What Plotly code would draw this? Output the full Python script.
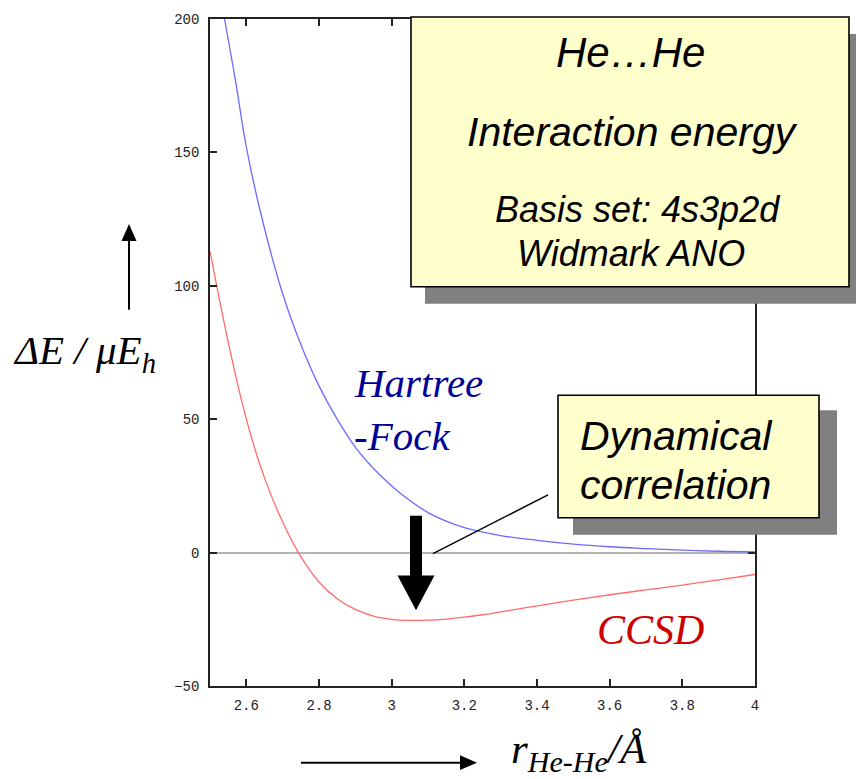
import plotly.graph_objects as go

# ---------------- data ----------------
hf_r = [2.54, 2.57, 2.60, 2.64, 2.70, 2.75, 2.80, 2.85, 2.90, 2.95, 3.00,
        3.05, 3.10, 3.15, 3.20, 3.30, 3.40, 3.50, 3.60, 3.70, 3.80, 3.90, 4.00]
hf_e = [200, 177, 152, 127, 97, 78, 62.5, 50, 39.5, 31.5, 25,
        19.5, 15, 11.8, 9.4, 6.4, 4.6, 3.2, 2.2, 1.5, 0.9, 0.5, 0.3]

cc_r = [2.50, 2.55, 2.60, 2.65, 2.70, 2.75, 2.80, 2.85, 2.90, 2.95, 3.00,
        3.05, 3.10, 3.15, 3.20, 3.25, 3.30, 3.35, 3.40, 3.50, 3.60, 3.70, 3.80, 3.90, 4.00]
cc_e = [113, 79, 50, 28, 11.5, -1.5, -11, -17.3, -21.3, -23.8, -25.0,
        -25.4, -25.3, -24.9, -24.2, -23.3, -22.2, -21.1, -20.0, -17.8, -15.8, -14.0, -12.2, -10.2, -8.2]

x_ticks = [2.6, 2.8, 3.0, 3.2, 3.4, 3.6, 3.8, 4.0]
x_tick_text = ["2.6", "2.8", "3", "3.2", "3.4", "3.6", "3.8", "4"]
y_ticks = [-50, 0, 50, 100, 150, 200]

# ---------------- layout helpers (pixel -> paper) ----------------
W, H = 856, 779
L, R, T, B = 210, 755, 16, 686


def px(x):
    return (x - L) / (R - L)


def py(y):
    return (B - y) / (B - T)


fig = go.Figure()
fig.add_trace(go.Scatter(x=hf_r, y=hf_e, mode="lines", line=dict(color="#6b6bff", width=1.3, shape="spline"),
                         name="Hartree-Fock", showlegend=False))
fig.add_trace(go.Scatter(x=cc_r, y=cc_e, mode="lines", line=dict(color="#ff6b6b", width=1.3, shape="spline"),
                         name="CCSD", showlegend=False))

shapes = []


def rect(x0, y0, x1, y1, fill, line_w=0, line_c="black"):
    shapes.append(dict(type="rect", xref="paper", yref="paper",
                       x0=px(x0), x1=px(x1), y0=py(y1), y1=py(y0),
                       fillcolor=fill, line=dict(width=line_w, color=line_c), layer="above"))


def poly(points, fill):
    d = "M " + " L ".join(f"{px(a)},{py(b)}" for a, b in points) + " Z"
    shapes.append(dict(type="path", xref="paper", yref="paper", path=d,
                       fillcolor=fill, line=dict(width=0), layer="above"))


def seg(x0, y0, x1, y1, w=1.5, c="black"):
    shapes.append(dict(type="line", xref="paper", yref="paper",
                       x0=px(x0), y0=py(y0), x1=px(x1), y1=py(y1),
                       line=dict(width=w, color=c), layer="above"))


# info box with shadow
rect(425, 31, 870, 302, "#808080")
rect(411, 14, 849, 285, "#ffffcc", 1.6, "black")
# dynamical correlation box with shadow
rect(573, 409, 837, 534, "#808080")
rect(558, 394, 819, 517, "#ffffcc", 1.6, "black")
# pointer line
seg(433, 553, 548, 494, 1.5)
# big down arrow
poly([(410, 515), (422, 515), (422, 575), (434.5, 575), (416, 610), (397.5, 575), (410, 575)], "black")
# up arrow (y label)
seg(129, 308, 129, 236, 2)
poly([(121.5, 239), (136.5, 239), (129, 222)], "black")
# right arrow (x label)
seg(301, 763, 462, 763, 2)
poly([(460, 755.5), (460, 770.5), (477, 763)], "black")

SANS = "Liberation Sans, Arial, sans-serif"
SERIF = "Liberation Serif, Times New Roman, serif"

ann = []


def text(t, x, y, size, family=SANS, color="black", xa="center", ya="middle"):
    ann.append(dict(text=t, x=px(x), y=py(y), xref="paper", yref="paper", showarrow=False,
                    xanchor=xa, yanchor=ya, font=dict(size=size, family=family, color=color)))


text("<i>He…He</i>", 630, 50, 42)
text("<i>Interaction energy</i>", 632, 130, 41)
text("<i>Basis set: 4s3p2d</i>", 637, 207, 36)
text("<i>Widmark ANO</i>", 631, 252, 36)
text("<i>Dynamical</i>", 578, 435, 41, xa="left")
text("<i>correlation</i>", 578, 484, 41, xa="left")
text("<i>Hartree</i>", 352, 382, 41, family=SERIF, color="#000099", xa="left")
text("<i>-Fock</i>", 352, 435, 41, family=SERIF, color="#000099", xa="left")
text("<i>CCSD</i>", 595, 630, 42, family=SERIF, color="#cc0000", xa="left")
text("<i>ΔE / μE<sub>h</sub></i>", 11, 352, 41, family=SERIF, xa="left")
text("<i>r<sub>He-He</sub>/Å</i>", 509, 752, 43, family=SERIF, xa="left")

axis_common = dict(showline=True, linecolor="#222", linewidth=1.5, mirror="ticks",
                   ticks="inside", ticklen=7, tickwidth=1.5, tickcolor="#222",
                   showgrid=False,
                   tickfont=dict(family="Liberation Mono, DejaVu Sans Mono, monospace", size=14, color="#222"))

fig.update_layout(
    width=W, height=H,
    margin=dict(l=L, r=W - R, t=T, b=H - B),
    paper_bgcolor="white", plot_bgcolor="white",
    xaxis=dict(range=[2.5, 4.0], tickvals=x_ticks, ticktext=x_tick_text, zeroline=False,
               ticklabelstandoff=5, **axis_common),
    yaxis=dict(range=[-50, 200], tickvals=y_ticks, zeroline=True, zerolinecolor="#b4b4b4",
               zerolinewidth=1.5, ticklabelstandoff=6, **axis_common),
    shapes=shapes, annotations=ann,
)

fig.write_html("out.html")
